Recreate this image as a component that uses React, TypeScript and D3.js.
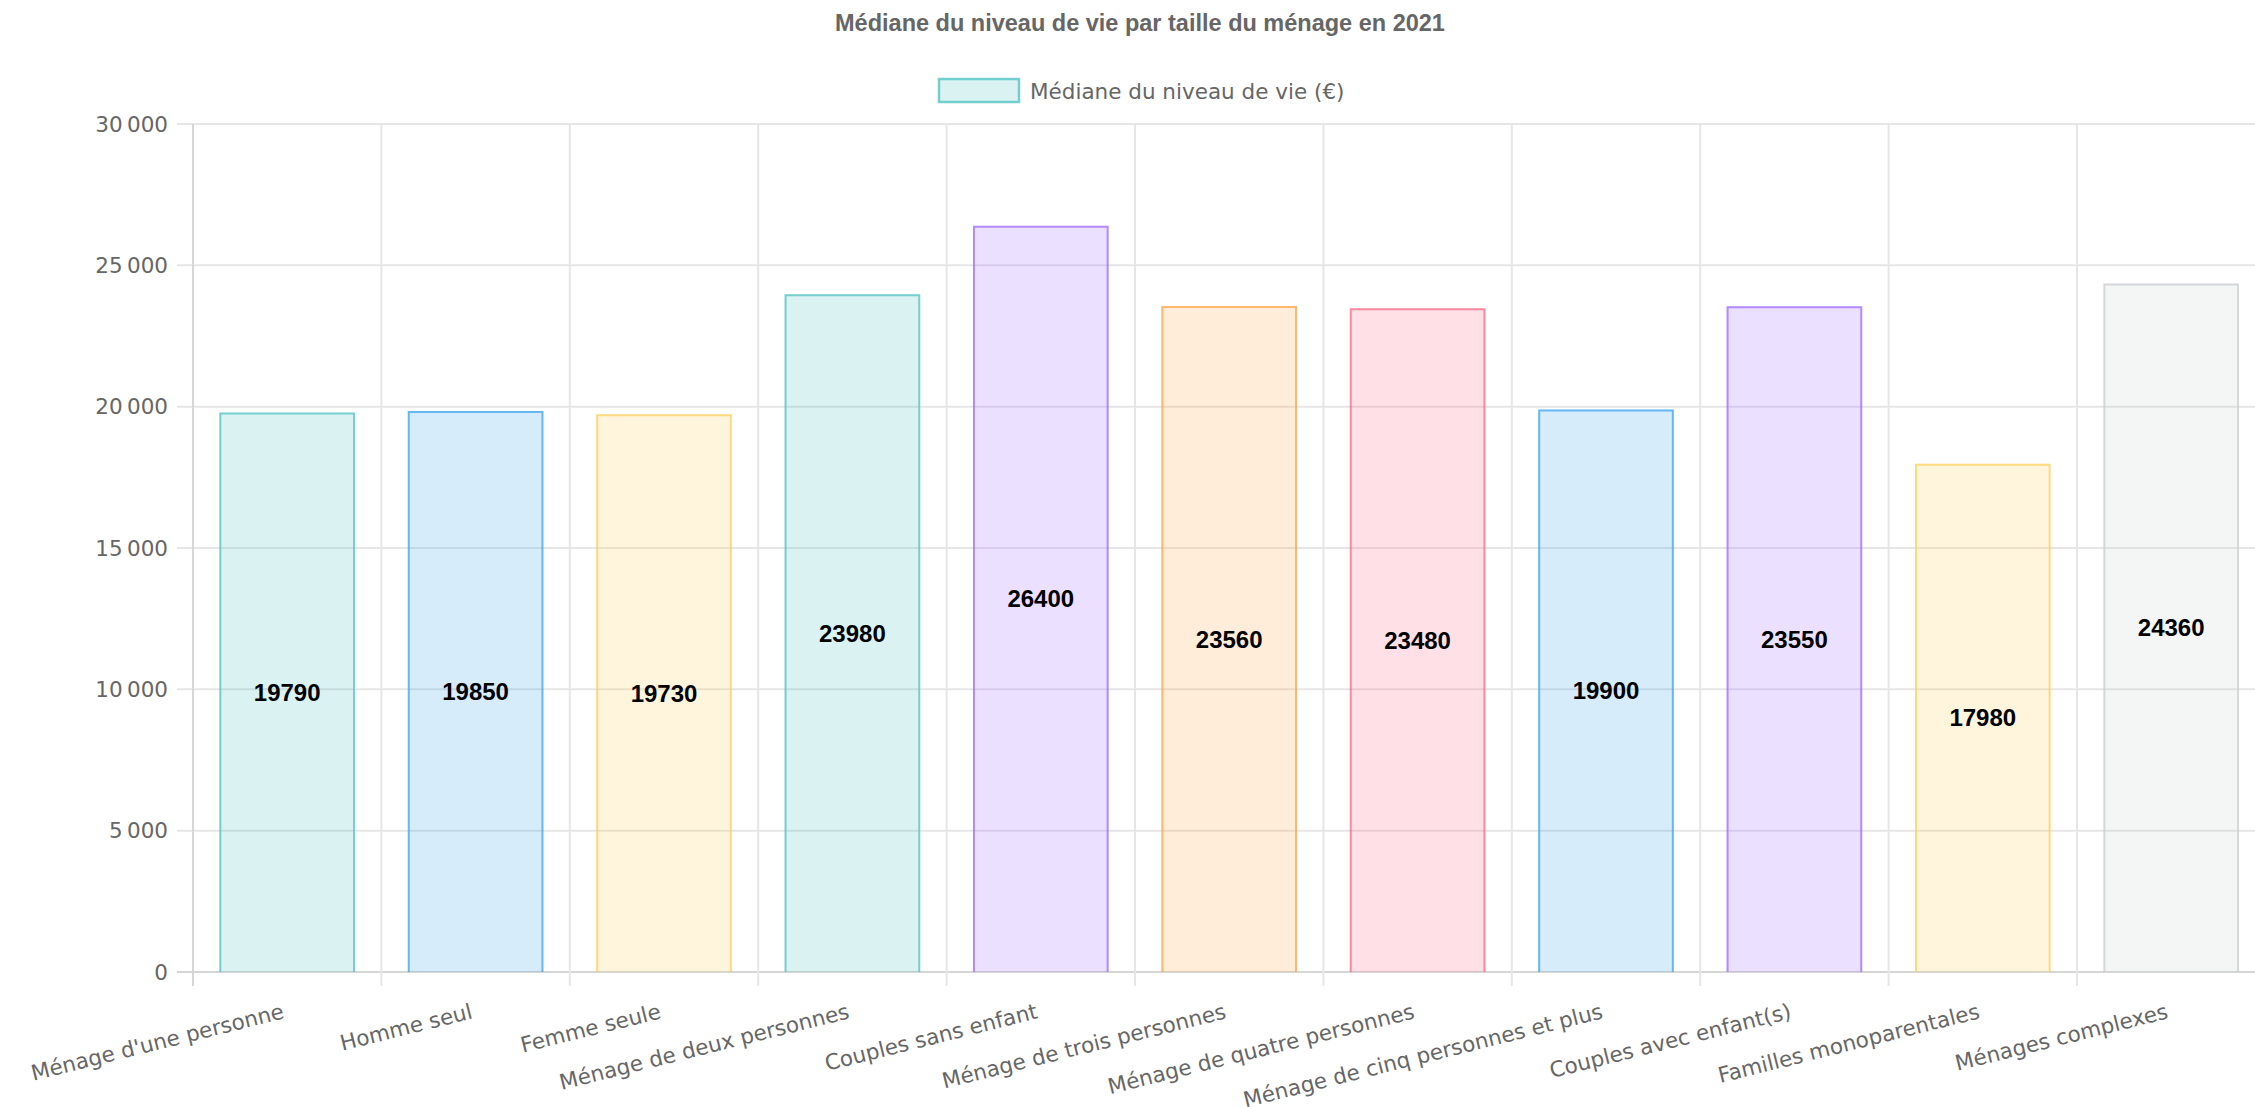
import React from "react";
import * as d3 from "d3";

const categories: string[] = [
  "Ménage d'une personne",
  "Homme seul",
  "Femme seule",
  "Ménage de deux personnes",
  "Couples sans enfant",
  "Ménage de trois personnes",
  "Ménage de quatre personnes",
  "Ménage de cinq personnes et plus",
  "Couples avec enfant(s)",
  "Familles monoparentales",
  "Ménages complexes",
];

const values: number[] = [19790, 19850, 19730, 23980, 26400, 23560, 23480, 19900, 23550, 17980, 24360];

const borderColors: string[] = [
  "rgb(75,192,192)",
  "rgb(54,162,235)",
  "rgb(255,205,86)",
  "rgb(75,192,192)",
  "rgb(153,102,255)",
  "rgb(255,159,64)",
  "rgb(255,99,132)",
  "rgb(54,162,235)",
  "rgb(153,102,255)",
  "rgb(255,205,86)",
  "rgb(201,203,207)",
];

const fillColors: string[] = borderColors.map((c) => c.replace("rgb(", "rgba(").replace(")", ",0.2)"));

const yTicks: number[] = [0, 5000, 10000, 15000, 20000, 25000, 30000];

const title = "Médiane du niveau de vie par taille du ménage en 2021";
const legendLabel = "Médiane du niveau de vie (€)";

const W = 2255;
const H = 1107;
const plotLeft = 193;
const step = 188.4;
const plotRight = plotLeft + step * categories.length;
const plotTop = 124;
const plotBottom = 972;
const FONT = "'DejaVu Sans', Verdana, sans-serif";

const fr = d3.formatLocale({ decimal: ",", thousands: "\u202f", grouping: [3], currency: ["", " €"] });
const fmt = fr.format(",d");

export default function App() {
  const x = d3
    .scaleBand<string>()
    .domain(categories)
    .range([plotLeft, plotRight])
    .paddingInner(0.28)
    .paddingOuter(0.14);
  const xGrid = d3.scaleBand<string>().domain(categories).range([plotLeft, plotRight]).padding(0);
  const y = d3.scaleLinear().domain([0, 30000]).range([plotBottom, plotTop]);
  const bw = x.bandwidth();

  return (
    <div style={{ position: "absolute", left: 0, top: 0 }}>
      <svg width={W} height={H} style={{ display: "block", background: "#fff" }}>
        {/* title */}
        <text
          x={1140}
          y={31}
          textAnchor="middle"
          fontFamily="'Liberation Sans', Arial, sans-serif"
          fontWeight="bold"
          fontSize={23.5}
          fill="#666"
        >
          {title}
        </text>
        {/* legend */}
        <rect
          x={939}
          y={79}
          width={80}
          height={23}
          fill={fillColors[0]}
          stroke={borderColors[0]}
          strokeOpacity={0.75}
          strokeWidth={2.5}
        />
        <text x={1030} y={91} dominantBaseline="central" fontFamily={FONT} fontSize={21.5} fill="#666">
          {legendLabel}
        </text>

        {/* horizontal grid */}
        {yTicks.map((t) => (
          <g key={"y" + t}>
            <line
              x1={plotLeft - 16}
              x2={plotRight}
              y1={y(t)}
              y2={y(t)}
              stroke={t === 0 ? "#d6d6d6" : "#e6e6e6"}
              strokeWidth={2}
            />
            <text
              x={168}
              y={y(t)}
              textAnchor="end"
              dominantBaseline="central"
              fontFamily={FONT}
              fontSize={21.5}
              fill="#666"
            >
              {fmt(t)}
            </text>
          </g>
        ))}
        {/* vertical grid */}
        {categories.map((c, i) => (
          <line
            key={"v" + c}
            x1={xGrid(c)!}
            x2={xGrid(c)!}
            y1={plotTop}
            y2={plotBottom + 14}
            stroke={i === 0 ? "#d6d6d6" : "#e6e6e6"}
            strokeWidth={2}
          />
        ))}

        {/* bars */}
        {categories.map((c, i) => {
          const x0 = x(c)!;
          const yTop = y(values[i]);
          const sw = 2;
          return (
            <g key={"b" + c}>
              <rect x={x0} y={yTop} width={bw} height={plotBottom - yTop} fill={fillColors[i]} />
              <path
                d={`M${x0 + sw / 2},${plotBottom} V${yTop + sw / 2} H${x0 + bw - sw / 2} V${plotBottom}`}
                fill="none"
                stroke={borderColors[i]}
                strokeOpacity={0.7}
                strokeWidth={sw}
              />
            </g>
          );
        })}

        {/* data labels */}
        {categories.map((c, i) => (
          <text
            key={"d" + c}
            x={x(c)! + bw / 2}
            y={(y(values[i]) + plotBottom) / 2}
            textAnchor="middle"
            dominantBaseline="central"
            fontFamily="'Liberation Sans', Arial, sans-serif"
            fontWeight="bold"
            fontSize={24}
            fill="#000"
          >
            {values[i]}
          </text>
        ))}

        {/* x labels */}
        {categories.map((c) => (
          <text
            key={"x" + c}
            transform={`translate(${xGrid(c)! + step / 2 - 2},${1018}) rotate(-14)`}
            textAnchor="end"
            fontFamily={FONT}
            fontSize={21.5}
            fill="#666"
          >
            {c}
          </text>
        ))}
      </svg>
    </div>
  );
}
